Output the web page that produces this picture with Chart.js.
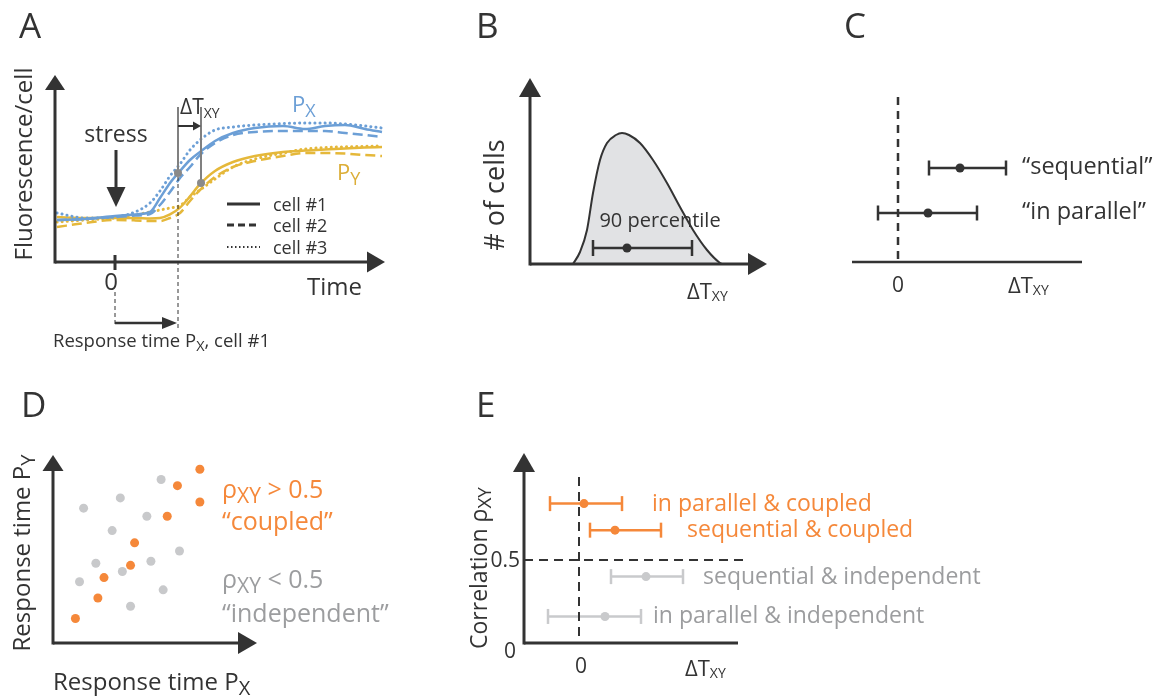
<!DOCTYPE html>
<html>
<head>
<meta charset="utf-8">
<script src="https://cdn.jsdelivr.net/npm/chart.js@4.4.1/dist/chart.umd.min.js"></script>
<style>
  html, body { margin: 0; background: #fff; }
  #fig { position: relative; width: 1165px; height: 700px; overflow: hidden; }
  canvas { position: absolute; }
</style>
</head>
<body>
<div id="fig">
  <canvas id="panelA"></canvas>
  <canvas id="panelB"></canvas>
  <canvas id="panelC"></canvas>
  <canvas id="panelD"></canvas>
  <canvas id="panelE"></canvas>
</div>
<script>
// A: single-cell reporter traces on a shared time grid (0 = stress)
const traceTime = [-2.9, -1.5, 0, 1, 1.75, 2.25, 2.75, 3.25, 3.75, 4.25, 5, 5.9, 7, 8.4, 9.5, 10.5, 11.5, 12.5, 13.35];
const pxCell1 = [2.1, 2.15, 2.3, 2.38, 2.5, 3.2, 3.95, 4.55, 5.1, 5.5, 6.05, 6.45, 6.7, 6.8, 6.65, 6.8, 6.85, 6.65, 6.5];
const pxCell2 = [2.1, 2.15, 2.25, 2.32, 2.4, 2.85, 3.5, 4.2, 4.75, 5.35, 5.95, 6.35, 6.5, 6.55, 6.55, 6.55, 6.45, 6.35, 6.25];
const pxCell3 = [2.45, 2.2, 2.25, 2.5, 2.95, 3.55, 4.3, 4.9, 5.6, 6.1, 6.6, 6.75, 6.85, 6.92, 6.95, 6.95, 6.9, 6.8, 6.7];
const pyCell1 = [2.25, 2.2, 2.2, 2.2, 2.18, 2.2, 2.38, 2.72, 3.28, 3.89, 4.55, 5.0, 5.3, 5.5, 5.57, 5.63, 5.68, 5.72, 5.75];
const pyCell2 = [1.75, 1.95, 2.1, 2.08, 2.05, 2.05, 2.2, 2.45, 3.05, 3.6, 4.25, 4.75, 5.05, 5.3, 5.45, 5.45, 5.42, 5.35, 5.3];
const pyCell3 = [2.0, 2.1, 2.2, 2.35, 2.5, 2.6, 2.7, 2.82, 3.25, 3.6, 4.15, 4.75, 5.15, 5.45, 5.65, 5.72, 5.76, 5.78, 5.8];
// half-rise points of cell #1
const respX = [3.15, 4.45];
const respY = [4.3, 3.95];
const markTop = 7.75;

// B: distribution of delays
const distDelta = [2.15, 2.5, 2.85, 3.15, 3.5, 3.85, 4.3, 4.6, 4.95, 5.5, 6.15, 6.85, 7.5, 8.15, 8.85, 9.5, 9.6];
const distCells = [0, 0.6, 1.7, 3.55, 5.2, 6.05, 6.45, 6.55, 6.45, 6.05, 5.2, 4.05, 2.85, 1.7, 0.7, 0.05, 0];
const pctRange = [3.15, 8.1];
const pctMid = 4.85;
const pctLevel = 0.8;

// C: ordering of the two reporters
const orderLabels = ['“sequential”', '“in parallel”'];
const orderRow = [2, 1];
const orderMid = [1.24, 0.6];
const orderLow = [0.62, -0.4];
const orderHigh = [2.16, 1.58];

// D: response times of single cells
const coupledRx = [1.1, 2.2, 2.5, 3.8, 4.0, 5.6, 6.1, 7.2, 7.2];
const coupledRy = [1.2, 2.2, 3.2, 3.8, 4.9, 6.2, 7.7, 8.5, 6.9];
const indepRx = [1.5, 3.3, 5.3, 2.9, 4.6, 2.1, 1.3, 3.4, 4.8, 6.2, 5.4, 3.8];
const indepRy = [6.6, 7.1, 8.0, 5.5, 6.2, 3.9, 3.0, 3.5, 4.0, 4.5, 2.6, 1.8];

// E: delay vs correlation classes
const classLabels = ['in parallel & coupled', 'sequential & coupled', 'sequential & independent', 'in parallel & independent'];
const classCorr = [0.84, 0.68, 0.40, 0.16];
const classMid = [0.1, 0.72, 1.34, 0.52];
const classLow = [-0.58, 0.22, 0.64, -0.62];
const classHigh = [0.86, 1.64, 2.08, 1.24];
const classCoupled = [true, true, false, false];

const FONT = '"Open Sans", "Noto Sans", sans-serif';
const INK = '#333333';
const BLUE = '#6c9fd6';
const YELLOW = '#e5b83a';
const ORANGE = '#f5883a';
const GREY_DOT = '#c8c9cb';
const GREY_BAR = '#c9cacc';
const GREY_TXT = '#9c9d9f';

// ---------- drawing helpers ----------
function seg(ctx, x1, y1, x2, y2, w, color, dash) {
  ctx.save();
  ctx.strokeStyle = color; ctx.lineWidth = w;
  ctx.setLineDash(dash || []);
  ctx.beginPath(); ctx.moveTo(x1, y1); ctx.lineTo(x2, y2); ctx.stroke();
  ctx.restore();
}
function head(ctx, x, y, dir, len, half, color) {
  ctx.save();
  ctx.fillStyle = color;
  ctx.beginPath(); ctx.moveTo(x, y);
  if (dir === 'up') { ctx.lineTo(x - half, y + len); ctx.lineTo(x + half, y + len); }
  if (dir === 'down') { ctx.lineTo(x - half, y - len); ctx.lineTo(x + half, y - len); }
  if (dir === 'right') { ctx.lineTo(x - len, y - half); ctx.lineTo(x - len, y + half); }
  ctx.closePath(); ctx.fill();
  ctx.restore();
}
// text made of runs: [text, size, dy]
function runs(ctx, parts, x, y, align, color) {
  ctx.save();
  let w = 0;
  parts.forEach(p => { ctx.font = p[1] + 'px ' + FONT; w += ctx.measureText(p[0]).width; });
  let cx = align === 'center' ? x - w / 2 : align === 'right' ? x - w : x;
  ctx.fillStyle = color; ctx.textBaseline = 'alphabetic'; ctx.textAlign = 'left';
  parts.forEach(p => {
    ctx.font = p[1] + 'px ' + FONT;
    ctx.fillText(p[0], cx, y + (p[2] || 0));
    cx += ctx.measureText(p[0]).width;
  });
  ctx.restore();
}
function vruns(ctx, parts, x, y, color) {
  ctx.save(); ctx.translate(x, y); ctx.rotate(-Math.PI / 2);
  runs(ctx, parts, 0, 0, 'center', color);
  ctx.restore();
}
function xy(xs, ys) { return xs.map((x, i) => ({ x: x, y: ys[i] })); }

function errorBars(rows, low, high, mid, colors, capR, dotR, width) {
  const sets = [];
  rows.forEach((r, i) => {
    sets.push({ data: [{ x: mid[i], y: r }], showLine: false, pointRadius: dotR,
      pointBackgroundColor: colors[i], pointBorderWidth: 0 });
    sets.push({ data: [{ x: low[i], y: r }, { x: high[i], y: r }], borderColor: colors[i], borderWidth: width,
      pointStyle: 'line', pointRotation: 90, pointRadius: capR,
      pointBorderColor: colors[i], pointBorderWidth: width });
  });
  return sets;
}

// one chart per panel; rect = canvas box, area = plotting box, both in page pixels
function panel(id, rect, area, xr, yr, datasets, draw) {
  const cv = document.getElementById(id);
  cv.width = rect[2]; cv.height = rect[3];
  cv.style.left = rect[0] + 'px'; cv.style.top = rect[1] + 'px';
  return new Chart(cv, {
    type: 'line',
    data: { datasets: datasets },
    options: {
      responsive: false, animation: false, events: [],
      layout: { padding: { left: area[0] - rect[0], top: area[1] - rect[1],
        right: rect[0] + rect[2] - area[2], bottom: rect[1] + rect[3] - area[3] } },
      scales: {
        x: { type: 'linear', min: xr[0], max: xr[1], display: false },
        y: { type: 'linear', min: yr[0], max: yr[1], display: false }
      },
      elements: { point: { hitRadius: 0 } },
      plugins: { legend: { display: false }, tooltip: { enabled: false } }
    },
    plugins: [{
      id: id + 'Deco',
      afterDraw(c) {
        const ctx = c.ctx;
        ctx.save(); ctx.translate(-rect[0], -rect[1]);
        draw(ctx, {
          px: v => c.scales.x.getPixelForValue(v) + rect[0],
          py: v => c.scales.y.getPixelForValue(v) + rect[1],
          L: c.chartArea.left + rect[0], R: c.chartArea.right + rect[0],
          T: c.chartArea.top + rect[1], B: c.chartArea.bottom + rect[1]
        });
        ctx.restore();
      }
    }]
  });
}

function trace(values, color, dash, width, cap) {
  return { data: xy(traceTime, values), borderColor: color, borderWidth: width || 2.5,
    borderDash: dash || [], borderCapStyle: cap || 'butt', pointRadius: 0,
    cubicInterpolationMode: 'monotone', fill: false };
}

// ---------- A ----------
panel('panelA', [0, 0, 420, 370], [55, 75, 385, 262], [-3, 13.5], [0, 9.35], [
  { data: [{ x: respX[0], y: respX[1] }, { x: respY[0], y: respY[1] }], showLine: false,
    pointRadius: 4, pointBackgroundColor: '#8a8a8a', pointBorderWidth: 0 },
  { data: [{ x: respX[0], y: respX[1] }, { x: respX[0], y: markTop }], borderColor: '#808080', borderWidth: 2, pointRadius: 0 },
  { data: [{ x: respY[0], y: respY[1] }, { x: respY[0], y: markTop }], borderColor: '#808080', borderWidth: 2, pointRadius: 0 },
  trace(pxCell1, BLUE),
  trace(pxCell2, BLUE, [10, 5]),
  trace(pxCell3, BLUE, [0.1, 5], 3, 'round'),
  trace(pyCell1, YELLOW),
  trace(pyCell2, YELLOW, [10, 5]),
  trace(pyCell3, YELLOW, [0.1, 5], 3, 'round')
], (ctx, g) => {
  const y0 = g.py(0), t0 = g.px(0);
  seg(ctx, g.L, y0, g.R - 15, y0, 3, INK);
  head(ctx, g.R, y0, 'right', 18, 10.5, INK);
  seg(ctx, g.L, y0 + 1.5, g.L, g.T + 12, 3, INK);
  head(ctx, g.L, g.T, 'up', 15, 10, INK);
  seg(ctx, t0, y0 - 7, t0, y0 + 8, 3, INK);
  runs(ctx, [['0', 24]], t0 - 4, 290, 'center', INK);
  runs(ctx, [['Time', 24]], 307, 295, 'left', INK);
  vruns(ctx, [['Fluorescence/cell', 24]], 32, 164, INK);
  runs(ctx, [['A', 35]], 19, 38, 'left', INK);

  // stress arrow
  runs(ctx, [['stress', 23]], t0 + 1, 142, 'center', INK);
  seg(ctx, t0 + 1, 150, t0 + 1, 190, 3, INK);
  head(ctx, t0 + 1, 207, 'down', 20, 9.5, INK);

  // delay between the two half-rise points
  const ax = g.px(respX[0]), ay = g.px(respY[0]);
  seg(ctx, ax, 126, ay - 6, 126, 2, INK);
  head(ctx, ay, 126, 'right', 8, 4.5, INK);
  runs(ctx, [['ΔT', 21], ['XY', 14, 4]], 180, 114, 'left', INK);

  // response time of Px, cell #1
  seg(ctx, ax, g.py(respX[1]) + 4, ax, 329, 1, INK, [4, 3]);
  seg(ctx, t0, 292, t0, 324, 1, INK, [4, 3]);
  seg(ctx, t0, 323, ax - 12, 323, 2.5, INK);
  head(ctx, ax - 1, 323, 'right', 15, 6, INK);
  runs(ctx, [['Response time P', 18.5], ['X', 14.5, 4], [', cell #1', 18.5]], 53, 347, 'left', INK);

  runs(ctx, [['P', 22], ['X', 18, 5]], 292, 112, 'left', BLUE);
  runs(ctx, [['P', 22], ['Y', 18, 5]], 337, 180, 'left', '#dcae38');

  // legend
  const ly = [204, 225, 247];
  seg(ctx, 227, ly[0], 260, ly[0], 3, INK);
  seg(ctx, 227, ly[1], 260, ly[1], 3, INK, [7, 4]);
  seg(ctx, 227, ly[2], 260, ly[2], 2, INK, [1.5, 2.5]);
  ['cell #1', 'cell #2', 'cell #3'].forEach((t, i) => runs(ctx, [[t, 18]], 273, ly[i] + 7, 'left', INK));
});

// ---------- B ----------
panel('panelB', [420, 0, 360, 320], [530, 78, 767, 264], [0, 11.85], [0, 9.3], [
  ...errorBars([pctLevel], [pctRange[0]], [pctRange[1]], [pctMid], [INK], 8, 4.5, 2.5),
  { data: xy(distDelta, distCells), borderColor: INK, borderWidth: 2, pointRadius: 0,
    cubicInterpolationMode: 'monotone', fill: 'origin', backgroundColor: '#e1e2e4' }
], (ctx, g) => {
  const y0 = g.py(0);
  seg(ctx, g.L, y0, g.R - 16, y0, 3, INK);
  head(ctx, g.R, y0, 'right', 19, 11, INK);
  seg(ctx, g.L, y0 + 1.5, g.L, g.T + 16, 3, INK);
  head(ctx, g.L, g.T, 'up', 19, 11, INK);
  runs(ctx, [['90 percentile', 20]], 660, 227, 'center', INK);
  vruns(ctx, [['# of cells', 27]], 504, 195, INK);
  runs(ctx, [['ΔT', 22], ['XY', 14, 2]], 687, 299, 'left', INK);
  runs(ctx, [['B', 35]], 476, 38, 'left', INK);
});

// ---------- C ----------
panel('panelC', [780, 0, 385, 320], [852, 97, 1082, 262], [-0.92, 3.68], [-0.089, 3.578],
  errorBars(orderRow, orderLow, orderHigh, orderMid, [INK, INK], 7.5, 4.5, 2.5),
  (ctx, g) => {
    seg(ctx, g.L, g.B, g.R, g.B, 2.5, INK);
    seg(ctx, g.px(0), g.T, g.px(0), g.B, 2.5, INK, [8, 6]);
    runs(ctx, [['0', 21]], g.px(0), 292, 'center', INK);
    runs(ctx, [['ΔT', 22], ['XY', 14, 2]], 1008, 293, 'left', INK);
    orderLabels.forEach((t, i) => runs(ctx, [[t, 23.5]], 1022, g.py(orderRow[i]) + 6, 'left', INK));
    runs(ctx, [['C', 35]], 844, 38, 'left', INK);
  });

// ---------- D ----------
panel('panelD', [0, 380, 440, 320], [53, 455, 257, 643], [0, 10], [0, 9.2], [
  { data: xy(coupledRx, coupledRy), showLine: false, pointRadius: 4.5, pointBackgroundColor: ORANGE, pointBorderWidth: 0 },
  { data: xy(indepRx, indepRy), showLine: false, pointRadius: 4.5, pointBackgroundColor: GREY_DOT, pointBorderWidth: 0 }
], (ctx, g) => {
  seg(ctx, g.L, g.B, g.R - 16, g.B, 3, INK);
  head(ctx, g.R, g.B, 'right', 19, 11, INK);
  seg(ctx, g.L, g.B + 1.5, g.L, g.T + 13, 3, INK);
  head(ctx, g.L, g.T, 'up', 16, 10.5, INK);
  runs(ctx, [['ρ', 25], ['XY', 21, 5], [' > 0.5', 25]], 222, 498, 'left', ORANGE);
  runs(ctx, [['“coupled”', 25]], 222, 530, 'left', ORANGE);
  runs(ctx, [['ρ', 25], ['XY', 21, 5], [' < 0.5', 25]], 222, 588, 'left', GREY_TXT);
  runs(ctx, [['“independent”', 25]], 222, 622, 'left', GREY_TXT);
  vruns(ctx, [['Response time P', 24], ['Y', 20, 5]], 30, 553, INK);
  runs(ctx, [['Response time P', 24], ['X', 20, 5]], 53, 690, 'left', INK);
  runs(ctx, [['D', 35]], 21, 417, 'left', INK);
});

// ---------- E ----------
const classColors = classCoupled.map(c => c ? ORANGE : GREY_BAR);
panel('panelE', [440, 380, 725, 320], [524, 453, 743, 643], [-1.1, 3.28], [0, 1.145],
  errorBars(classCorr, classLow, classHigh, classMid, classColors, 7.5, 4.5, 2.5),
  (ctx, g) => {
    seg(ctx, g.L, g.B, g.R - 5, g.B, 3, INK);
    seg(ctx, g.L, g.B + 1.5, g.L, g.T + 16, 3, INK);
    head(ctx, g.L, g.T, 'up', 19, 11, INK);
    seg(ctx, g.L, g.py(0.5), g.R, g.py(0.5), 2, INK, [9, 6]);
    seg(ctx, g.px(0), 477, g.px(0), g.B, 2, INK, [9, 6]);
    runs(ctx, [['0', 21]], 516, 658, 'right', INK);
    runs(ctx, [['0.5', 21]], 520, g.py(0.5) + 7, 'right', INK);
    runs(ctx, [['0', 21]], g.px(0) + 2, 673, 'center', INK);
    runs(ctx, [['ΔT', 22], ['XY', 14, 2]], 685, 676, 'left', INK);
    vruns(ctx, [['Correlation ρ', 23], ['XY', 19, 4]], 487, 568, INK);
    const gap = [30, 26, 20, 12];
    classLabels.forEach((t, i) => runs(ctx, [[t, 23]], g.px(classHigh[i]) + gap[i], g.py(classCorr[i]) + 7, 'left',
      classCoupled[i] ? ORANGE : GREY_TXT));
    runs(ctx, [['E', 35]], 476, 417, 'left', INK);
  });
</script>
</body>
</html>
